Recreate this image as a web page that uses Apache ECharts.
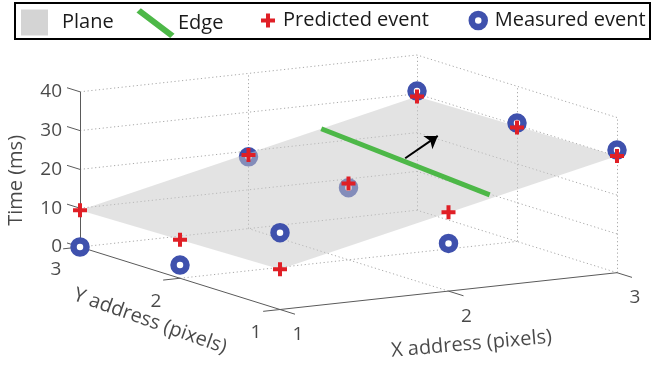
<!DOCTYPE html>
<html>
<head>
<meta charset="utf-8">
<script src="https://cdn.jsdelivr.net/npm/echarts@6/dist/echarts.min.js"></script>
<style>
  html, body { margin: 0; padding: 0; background: #fff; }
  #chart { width: 654px; height: 365px; }
</style>
</head>
<body>
<div id="chart"></div>
<script>
// Pixel grid sampled by the sensor and the event times (ms) at each pixel
const xAddress      = [1, 1, 1, 2, 2, 2, 3, 3, 3];
const yAddress      = [1, 2, 3, 1, 2, 3, 1, 2, 3];
const measuredTime  = [19.8, 3.4, 0.0, 12.3, 18.6, 18.5, 31.6, 30.5, 30.7];
const predictedTime = [10.4, 9.9, 9.5, 20.3, 19.7, 19.0, 30.1, 29.4, 29.3];

// The fitted plane is spanned by the predicted events at the four corner pixels
const planeCorners = [0, 6, 8, 2];

// Edge lying in the plane and its direction of motion
const edgeX = [2.42, 2.28];
const edgeY = [2.98, 1.06];
const edgeTime = [23.9, 23.0];
const arrowX = [2.39, 2.69];
const arrowY = [2.09, 2.27];
const arrowTime = [23.6, 26.5];

// Axis ticks
const xTicks = [1, 2, 3];
const yTicks = [1, 2, 3];
const tTicks = [0, 10, 20, 30, 40];
const xTickLabels = ['1', '2', '3'];
const yTickLabels = ['1', '2', '3'];
const tTickLabels = ['0', '10', '20', '30', '40'];

// ---- fixed oblique view of the 3-D box -------------------------------------
const VIEW = {
  origin: [280, 309.5],     // (x=1, y=1, t=0)
  ex: [168.5, -18.4],       // one pixel step in x
  ey: [-100, -31.25],       // one pixel step in y
  et: [0, -3.88]            // one millisecond
};
const X0 = xTicks[0], X1 = xTicks[xTicks.length - 1];
const Y0 = yTicks[0], Y1 = yTicks[yTicks.length - 1];
const T0 = tTicks[0], T1 = tTicks[tTicks.length - 1];

function proj(x, y, t) {
  const u = x - X0, v = y - Y0;
  return [
    VIEW.origin[0] + u * VIEW.ex[0] + v * VIEW.ey[0] + t * VIEW.et[0],
    VIEW.origin[1] + u * VIEW.ex[1] + v * VIEW.ey[1] + t * VIEW.et[1]
  ];
}
function seg(a, b) { return { coords: [proj(a[0], a[1], a[2]), proj(b[0], b[1], b[2])] }; }

// ---- box grid, axes and ticks ----------------------------------------------
const gridSegs = [];
xTicks.slice(1).forEach(x => gridSegs.push(seg([x, Y0, T0], [x, Y1, T0])));
yTicks.slice(1).forEach(y => gridSegs.push(seg([X0, y, T0], [X1, y, T0])));
xTicks.slice(1).forEach(x => gridSegs.push(seg([x, Y1, T0], [x, Y1, T1])));
tTicks.slice(1).forEach(t => gridSegs.push(seg([X0, Y1, t], [X1, Y1, t])));
yTicks.slice(0, -1).forEach(y => gridSegs.push(seg([X1, y, T0], [X1, y, T1])));
tTicks.slice(1).forEach(t => gridSegs.push(seg([X1, Y0, t], [X1, Y1, t])));

const axisSegs = [
  seg([X0, Y1, T0], [X0, Y1, T1]),
  seg([X0, Y0, T0], [X0, Y1, T0]),
  seg([X0, Y0, T0], [X1, Y0, T0])
];
tTicks.forEach(t => axisSegs.push(seg([X0, Y1, t], [X0, Y1 + 0.13, t])));
yTicks.forEach(y => axisSegs.push(seg([X0, y, T0], [X0 - 0.1, y, T0])));
xTicks.forEach(x => axisSegs.push(seg([x, Y0, T0], [x, Y0 - 0.15, T0])));

// ---- events ----------------------------------------------------------------
const below = [], above = [], predicted = [];
xAddress.forEach((x, i) => {
  const m = proj(x, yAddress[i], measuredTime[i]);
  (measuredTime[i] < predictedTime[i] ? below : above).push(m);
  predicted.push(proj(x, yAddress[i], predictedTime[i]));
});
const planePts = planeCorners.map(i => proj(xAddress[i], yAddress[i], predictedTime[i]));

const FONT = '"Open Sans", "DejaVu Sans", sans-serif';
const INK = '#1a1a1a';
const BLUE = '#3f51ad';
const RED = '#e01f26';
const GREEN = '#4db848';
const PLUS = 'path://M5,0 H9 V5 H14 V9 H9 V14 H5 V9 H0 V5 H5 Z';

// label offsets are applied in the rotated text frame; convert a screen shift
function screenOffset(dx, dy, deg) {
  const r = deg * Math.PI / 180, c = Math.cos(r), s = Math.sin(r);
  return [dx * c - dy * s, dx * s + dy * c];
}

function textSeries(points, texts, label) {
  return {
    type: 'scatter', silent: true, z: 9, symbolSize: 0,
    data: points.map((p, i) => ({ value: p, name: texts[i] })),
    label: Object.assign({
      show: true, formatter: '{b}', position: 'inside',
      fontFamily: FONT, fontSize: 19, color: INK
    }, label)
  };
}

const legendCommon = {
  selectedMode: false, padding: 0, orient: 'horizontal',
  textStyle: { fontFamily: FONT, fontSize: 20, color: INK }
};
const LEG_CY = 22.5;

const option = {
  animation: false,
  grid: { left: 0, right: 0, top: 0, bottom: 0 },
  xAxis: { type: 'value', min: 0, max: 654, show: false },
  yAxis: { type: 'value', min: 0, max: 365, inverse: true, show: false },
  graphic: [{
    type: 'rect', shape: { x: 15, y: 3, width: 635, height: 36 },
    style: { fill: 'none', stroke: '#000', lineWidth: 2 }, silent: true
  }],
  legend: [
    Object.assign({}, legendCommon, {
      data: [{ name: 'Plane', icon: 'rect', itemStyle: { color: '#d4d4d4', opacity: 1 } }],
      left: 21, top: LEG_CY - 13, itemWidth: 27, itemHeight: 26,
      textStyle: Object.assign({}, legendCommon.textStyle, { padding: [0, 0, 0, 9] })
    }),
    Object.assign({}, legendCommon, {
      data: [{ name: 'Edge', icon: 'path://M0,3 L3,0 L36,25 L33,28 Z', itemStyle: { color: GREEN } }],
      left: 137, top: LEG_CY - 14, itemWidth: 35, itemHeight: 28
    }),
    Object.assign({}, legendCommon, {
      data: [{ name: 'Predicted event', icon: PLUS, itemStyle: { color: RED, opacity: 1 } }],
      left: 261, top: LEG_CY - 12, itemWidth: 14, itemHeight: 14,
      textStyle: Object.assign({}, legendCommon.textStyle, { padding: [0, 0, 0, 3] })
    }),
    Object.assign({}, legendCommon, {
      data: [{ name: 'Measured event', icon: 'circle',
               itemStyle: { color: '#fff', borderColor: BLUE, borderWidth: 6.5, opacity: 1 } }],
      left: 468.5, top: LEG_CY - 12, itemWidth: 13, itemHeight: 13,
      textStyle: Object.assign({}, legendCommon.textStyle, { padding: [0, 0, 0, 5] })
    })
  ],
  series: [
    { type: 'lines', coordinateSystem: 'cartesian2d', silent: true, z: 1,
      data: gridSegs, lineStyle: { color: '#a8a8a8', width: 1, type: [1.2, 2.6], opacity: 1 } },
    { type: 'lines', coordinateSystem: 'cartesian2d', silent: true, z: 2,
      data: axisSegs, lineStyle: { color: '#5a5a5a', width: 1, opacity: 1 } },
    { name: 'Measured event', type: 'scatter', silent: true, z: 3,
      data: below, symbol: 'circle', symbolSize: 13,
      itemStyle: { color: '#fff', borderColor: BLUE, borderWidth: 6.5, opacity: 1 } },
    { name: 'Plane', type: 'custom', silent: true, z: 4, data: [[0, 0]],
      itemStyle: { color: '#c8c8c8' },
      renderItem: (params, api) => ({
        type: 'polygon',
        shape: { points: planePts.map(p => api.coord(p)) },
        style: { fill: '#c8c8c8', opacity: 0.5 }
      }) },
    { name: 'Measured event', type: 'scatter', silent: true, z: 5,
      data: above, symbol: 'circle', symbolSize: 13,
      itemStyle: { color: '#fff', borderColor: BLUE, borderWidth: 6.5, opacity: 1 } },
    { name: 'Edge', type: 'lines', coordinateSystem: 'cartesian2d', silent: true, z: 6,
      data: [{ coords: [proj(edgeX[0], edgeY[0], edgeTime[0]), proj(edgeX[1], edgeY[1], edgeTime[1])] }],
      itemStyle: { color: GREEN },
      lineStyle: { color: GREEN, width: 5, opacity: 1 } },
    { type: 'lines', coordinateSystem: 'cartesian2d', silent: true, z: 7,
      symbol: ['none', 'arrow'], symbolSize: 12,
      data: [{ coords: [proj(arrowX[0], arrowY[0], arrowTime[0]), proj(arrowX[1], arrowY[1], arrowTime[1])] }],
      lineStyle: { color: '#000', width: 2, opacity: 1 } },
    { name: 'Predicted event', type: 'scatter', silent: true, z: 8,
      data: predicted, symbol: PLUS, symbolSize: 14, itemStyle: { color: RED, opacity: 1 } },

    // tick labels
    textSeries(tTicks.map(t => proj(X0, Y1, t)), tTickLabels, { align: 'right', offset: [-18, 0] }),
    textSeries(yTicks.map(y => proj(X0, y, T0)), yTickLabels, { offset: [-24, 23] }),
    textSeries(xTicks.map(x => proj(x, Y0, T0)), xTickLabels, { offset: [18, 25] }),

    // axis titles
    textSeries([proj(X0, Y1, (T0 + T1) / 2)], ['Time (ms)'],
      { fontSize: 20, rotate: 90, offset: screenOffset(-64, 11, 90) }),
    textSeries([proj(X0, (Y0 + Y1) / 2, T0)], ['Y address (pixels)'],
      { fontSize: 20, rotate: -19.5, offset: screenOffset(-30, 43, -19.5) }),
    textSeries([proj((X0 + X1) / 2, Y0, T0)], ['X address (pixels)'],
      { fontSize: 20, rotate: 5, offset: screenOffset(23, 53, 5) })
  ]
};

echarts.init(document.getElementById('chart'), null, { renderer: 'canvas' }).setOption(option);
</script>
</body>
</html>
